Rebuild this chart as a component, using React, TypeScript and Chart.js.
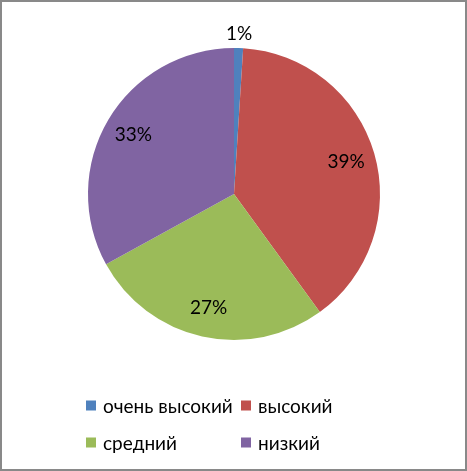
import React, { useEffect, useRef } from "react";
import { Chart, registerables } from "chart.js";

Chart.register(...registerables);

const categories = ["очень высокий", "высокий", "средний", "низкий"];
const values = [1, 39, 27, 33];
const percentLabels = ["1%", "39%", "27%", "33%"];
const colors = ["#4F81BD", "#C0504D", "#9BBB59", "#8064A2"];

const FONT = "Lato, 'Open Sans', sans-serif";

const labelPlugin = {
  id: "pieLabels",
  afterDatasetsDraw(chart: any) {
    const ctx = chart.ctx;
    const meta = chart.getDatasetMeta(0);
    ctx.save();
    ctx.font = `19px ${FONT}`;
    ctx.fillStyle = "#000";
    ctx.textAlign = "center";
    ctx.textBaseline = "middle";
    meta.data.forEach((arc: any, i: number) => {
      const { x, y, startAngle, endAngle, outerRadius } = arc.getProps(
        ["x", "y", "startAngle", "endAngle", "outerRadius"],
        true
      );
      const mid = (startAngle + endAngle) / 2;
      const small = values[i] < 5;
      const r = small ? outerRadius * 1.1 : outerRadius * 0.8;
      ctx.fillText(percentLabels[i], x + Math.cos(mid) * r, y + Math.sin(mid) * r);
    });
    ctx.restore();
  },
};

const legendPlugin = {
  id: "gridLegend",
  afterDraw(chart: any) {
    const ctx = chart.ctx;
    ctx.save();
    ctx.font = `19px ${FONT}`;
    ctx.textBaseline = "middle";
    ctx.textAlign = "left";
    const colX = [86, 241];
    const rowY = [405.5, 442.5];
    categories.forEach((c, i) => {
      const x = colX[i % 2];
      const y = rowY[Math.floor(i / 2)];
      ctx.fillStyle = colors[i];
      ctx.fillRect(x, y - 5, 10, 10);
      ctx.fillStyle = "#000";
      ctx.fillText(c, x + 17, y + 1);
    });
    ctx.restore();
  },
};

export default function App() {
  const ref = useRef<HTMLCanvasElement | null>(null);
  useEffect(() => {
    if (!ref.current) return;
    const chart = new Chart(ref.current, {
      type: "pie",
      data: {
        labels: categories,
        datasets: [
          {
            data: values,
            backgroundColor: colors,
            borderWidth: 0,
          },
        ],
      },
      options: {
        animation: false,
        responsive: false,
        layout: { padding: { left: 88, right: 87, top: 48, bottom: 131 } },
        plugins: {
          legend: { display: false },
          tooltip: { enabled: false },
        },
      },
      plugins: [labelPlugin, legendPlugin],
    });
    return () => chart.destroy();
  }, []);
  return (
    <div
      style={{
        position: "fixed",
        left: 0,
        top: 0,
        width: 467,
        height: 471,
        background: "#fff",
      }}
    >
      <canvas ref={ref} width={467} height={471} style={{ display: "block" }} />
      <div
        style={{
          position: "absolute",
          left: 0,
          top: 0,
          width: 467,
          height: 471,
          boxSizing: "border-box",
          border: "2px solid #898989",
          pointerEvents: "none",
        }}
      />
    </div>
  );
}
